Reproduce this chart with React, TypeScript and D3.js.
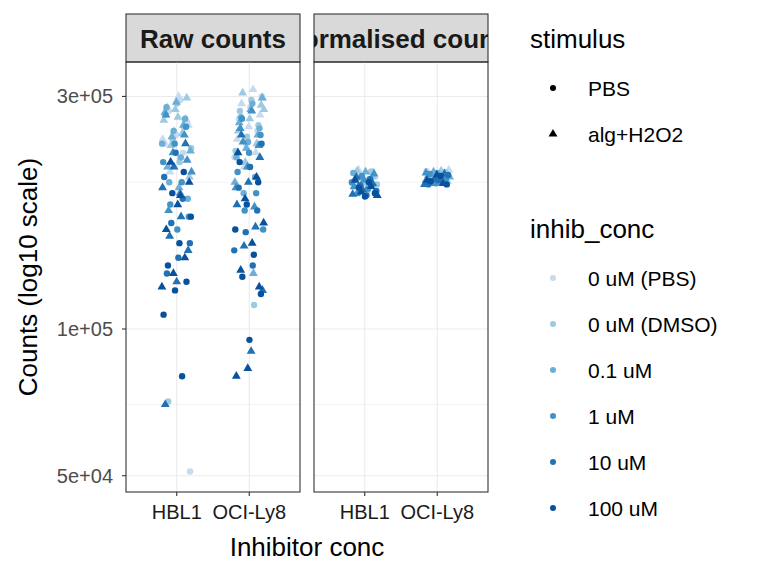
import React from "react";
import * as d3 from "d3";

const concs = ["0 uM (PBS)", "0 uM (DMSO)", "0.1 uM", "1 uM", "10 uM", "100 uM"];
const colors = ["#c6dbef", "#9ecae1", "#6baed6", "#4292c6", "#2171b5", "#08519c"];
const stimuli = ["PBS", "alg+H2O2"];
const cells = ["HBL1", "OCI-Ly8"];
const panels = ["Raw counts", "Normalised counts"];
const yTicks = [50000, 100000, 300000];
const yTickLabels = ["5e+04", "1e+05", "3e+05"];

// values in thousands: [cell][conc][stimulus]
const rawHBL1 = [
  [[295, 280, 265, 250, 240, 230, 215, 51], [300, 285, 270, 255, 245, 225, 210, 262]],
  [[290, 275, 260, 245, 235, 220, 71], [298, 282, 268, 252, 238, 205, 272]],
  [[285, 270, 255, 240, 225, 200, 185], [292, 278, 262, 248, 232, 195, 215]],
  [[260, 240, 220, 200, 180, 170, 160], [275, 250, 230, 210, 190, 175, 222]],
  [[230, 205, 185, 165, 150, 140, 130], [240, 215, 195, 170, 155, 145, 125, 70]],
  [[210, 190, 170, 150, 135, 125, 120, 107, 80], [220, 200, 180, 160, 140, 130, 122, 188]],
];
const rawOCI = [
  [[300, 285, 270, 255, 240, 225], [310, 290, 275, 260, 245, 230, 215, 298]],
  [[295, 280, 262, 248, 232, 112], [305, 288, 270, 255, 240, 220, 282]],
  [[290, 272, 258, 242, 225, 205, 190], [298, 282, 265, 250, 235, 200, 130]],
  [[270, 250, 230, 210, 190, 175, 160], [280, 258, 238, 215, 195, 178, 242]],
  [[240, 215, 195, 175, 158, 145, 135], [250, 225, 200, 180, 162, 148, 120, 90]],
  [[220, 200, 180, 160, 142, 128, 118, 95], [230, 205, 185, 165, 150, 132, 122, 83, 80]],
];
const normHBL1 = [
  [[211, 205, 199, 193], [212, 206, 200, 195]],
  [[210, 204, 198, 192], [211, 205, 199]],
  [[209, 203, 197, 191], [210, 204, 198]],
  [[206, 200, 194, 190], [208, 202, 196]],
  [[203, 197, 192, 188], [205, 199, 193, 189]],
  [[200, 195, 190, 187], [202, 196, 191, 188]],
];
const normOCI = [
  [[211, 206, 201], [212, 207, 202]],
  [[210, 205, 200], [211, 206, 201]],
  [[209, 204, 200], [210, 205, 200]],
  [[208, 203, 199], [209, 204, 199]],
  [[207, 202, 198], [208, 203, 198]],
  [[206, 201, 198], [207, 202, 199]],
];
const data = [[rawHBL1, rawOCI], [normHBL1, normOCI]];

const font = "Liberation Sans, Arial, sans-serif";

export default function App() {
  const top = 62, bottom = 492;
  const pLeft = [126, 314], pW = 174;
  const y = d3.scaleLog().domain([46300, 353000]).range([bottom, top]);
  const x = d3.scaleBand().domain(cells).range([0, pW]).paddingInner(0.2).paddingOuter(0.3);
  const xc = (c: string) => (x(c) as number) + x.bandwidth() / 2;
  const minor = [70000, 200000];
  const tri = d3.symbol(d3.symbolTriangle, 34)() as string;
  const pts: React.ReactNode[] = [];
  data.forEach((pd, pi) => {
    pd.forEach((cd, ci) => {
      const jw = pi === 0 ? 15 : 13;
      let k = 0;
      cd.forEach((conc, i) => {
        conc.forEach((vals, s) => {
          vals.forEach((v) => {
            k++;
            const j = (((k * 0.618034 + ci * 0.3 + pi * 0.17) % 1) * 2 - 1) * jw;
            const px = pLeft[pi] + xc(cells[ci]) + j;
            const py = y(v * 1000);
            pts.push(
              s === 0 ? (
                <circle key={`${pi}-${ci}-${k}`} cx={px} cy={py} r={3.2} fill={colors[i]} />
              ) : (
                <path key={`${pi}-${ci}-${k}`} d={tri} transform={`translate(${px},${py})`} fill={colors[i]} />
              )
            );
          });
        });
      });
    });
  });
  return (
    <svg width={768} height={576} style={{ position: "absolute", left: 0, top: 0 }} fontFamily={font}>
      <rect width={768} height={576} fill="white" />
      {panels.map((p, pi) => (
        <g key={p}>
          <clipPath id={`c${pi}`}>
            <rect x={pLeft[pi]} y={14} width={pW} height={48} />
          </clipPath>
          <rect x={pLeft[pi]} y={14} width={pW} height={48} fill="#d9d9d9" stroke="#333" strokeWidth={1.1} />
          <text clipPath={`url(#c${pi})`} x={pLeft[pi] + pW / 2} y={48} textAnchor="middle" fontSize={26} fontWeight="bold" fill="#1a1a1a">{p}</text>
          {minor.map((t) => (
            <line key={t} x1={pLeft[pi]} x2={pLeft[pi] + pW} y1={y(t)} y2={y(t)} stroke="#ebebeb" strokeWidth={0.6} />
          ))}
          {yTicks.map((t) => (
            <line key={t} x1={pLeft[pi]} x2={pLeft[pi] + pW} y1={y(t)} y2={y(t)} stroke="#ebebeb" strokeWidth={1.1} />
          ))}
          {cells.map((c) => (
            <g key={c}>
              <line x1={pLeft[pi] + xc(c)} x2={pLeft[pi] + xc(c)} y1={top} y2={bottom} stroke="#ebebeb" strokeWidth={1.1} />
              <line x1={pLeft[pi] + xc(c)} x2={pLeft[pi] + xc(c)} y1={bottom} y2={bottom + 4} stroke="#333" strokeWidth={1.1} />
              <text x={pLeft[pi] + xc(c)} y={bottom + 27} textAnchor="middle" fontSize={20} fill="#1a1a1a">{c}</text>
            </g>
          ))}
        </g>
      ))}
      {pts}
      {panels.map((p, pi) => (
        <rect key={p} x={pLeft[pi]} y={top} width={pW} height={bottom - top} fill="none" stroke="#333" strokeWidth={1.1} />
      ))}
      {yTicks.map((t, i) => (
        <g key={t}>
          <line x1={122} x2={126} y1={y(t)} y2={y(t)} stroke="#333" strokeWidth={1.1} />
          <text x={113} y={y(t) + 7} textAnchor="end" fontSize={20} fill="#4d4d4d">{yTickLabels[i]}</text>
        </g>
      ))}
      <text transform={`translate(37,${(top + bottom) / 2}) rotate(-90)`} textAnchor="middle" fontSize={26}>Counts (log10 scale)</text>
      <text x={307} y={556} textAnchor="middle" fontSize={26}>Inhibitor conc</text>
      <text x={530} y={48} fontSize={26}>stimulus</text>
      {stimuli.map((s, i) => (
        <g key={s}>
          {i === 0 ? (
            <circle cx={553} cy={88 + i * 46} r={3} fill="black" />
          ) : (
            <path d={tri} transform={`translate(553,${88 + i * 46})`} fill="black" />
          )}
          <text x={588} y={96 + i * 46} fontSize={21}>{s}</text>
        </g>
      ))}
      <text x={530} y={238} fontSize={26}>inhib_conc</text>
      {concs.map((c, i) => (
        <g key={c}>
          <circle cx={553} cy={278 + i * 46} r={3} fill={colors[i]} />
          <text x={588} y={286 + i * 46} fontSize={21}>{c}</text>
        </g>
      ))}
    </svg>
  );
}
